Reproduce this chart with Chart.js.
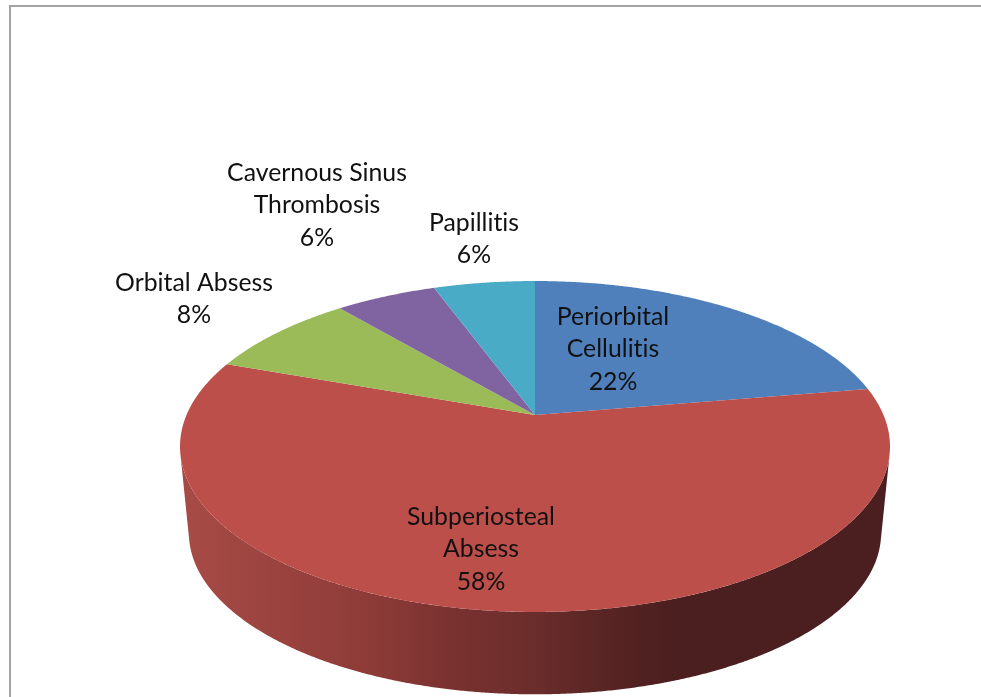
<!DOCTYPE html>
<html><head><meta charset="utf-8">
<style>html,body{margin:0;padding:0;background:#fff;overflow:hidden}canvas{display:block}</style>
<script src="https://cdn.jsdelivr.net/npm/chart.js@4"></script></head>
<body><canvas id="c" width="981" height="697"></canvas>
<script>
const categories = ["Periorbital Cellulitis","Subperiosteal Absess","Orbital Absess","Cavernous Sinus Thrombosis","Papillitis"];
const shareValues = [22.3,58.2,8.4,5.55,5.55];
const percentLabels = ["22%","58%","8%","6%","6%"];
const sliceColors = ["#4F80BC","#BD4F4B","#9BBB59","#8064A2","#49ABC5"];

// layout of the tilted disc and its texts
const LABEL_LINES = [["Periorbital","Cellulitis"],["Subperiosteal","Absess"],["Orbital Absess"],["Cavernous Sinus","Thrombosis"],["Papillitis"]];
const LABEL_ANCHOR = [[613,317],[481,517],[194,283],[317,173],[474,223]];
const P = {cx:535, apexY:415, a:80.5, c:348.5, p:-0.1903};
const WALL = {scale:0.975, cy:533, topCy:446.5};

function project(theta){
  const u=Math.cos(theta), v=Math.sin(theta), w=1+P.p*v;
  return [P.cx+P.c*u/w, (P.a*v+P.apexY)/w];
}
function projectBase(theta){
  const [x,y]=project(theta);
  return [P.cx+(x-P.cx)*WALL.scale, WALL.cy+(y-WALL.topCy)*WALL.scale];
}
function rim(ctx,fn,a0,a1){
  const n=Math.max(2,Math.ceil(Math.abs(a1-a0)/0.005));
  for(let i=0;i<=n;i++){const t=a0+(a1-a0)*i/n;const q=fn(t);ctx.lineTo(q[0],q[1]);}
}
function frontRange(s,e){
  // part of a slice's rim whose outside wall faces the viewer
  let lo=null,hi=null;const d=0.002;
  for(let t=s;t<=e;t+=d){
    const a=project(t),b=project(t+d),o=projectBase(t);
    const cross=(b[0]-a[0])*(o[1]-a[1])-(b[1]-a[1])*(o[0]-a[0]);
    if(cross<0){if(lo===null)lo=t;hi=t;}
  }
  return lo===null?null:[lo,hi];
}
const disc3d={
  id:'disc3d',
  beforeDatasetDraw(chart,args){
    const ctx=chart.ctx, arcs=chart.getDatasetMeta(args.index).data;
    ctx.save();
    const g=ctx.createLinearGradient(180,0,890,0);
    [[0,"#A84B46"],[0.27,"#8D3B37"],[0.38,"#7A3230"],[0.5,"#6A2D2B"],[0.62,"#552322"],[0.7,"#4B1F1F"],[1,"#4B1F1F"]]
      .forEach(s=>g.addColorStop(s[0],s[1]));
    arcs.forEach(arc=>{
      const r=frontRange(arc.startAngle,arc.endAngle);
      if(!r) return;
      ctx.beginPath();
      rim(ctx,project,r[0],r[1]);
      rim(ctx,projectBase,r[1],r[0]);
      ctx.closePath();
      ctx.fillStyle=g;ctx.fill();
    });
    // top face
    arcs.forEach((arc,i)=>{
      ctx.beginPath();
      ctx.moveTo(P.cx,P.apexY);
      rim(ctx,project,arc.startAngle,arc.endAngle);
      ctx.closePath();
      ctx.fillStyle=arc.options.backgroundColor;
      ctx.fill();
    });
    ctx.restore();
    return false;
  },
  afterDraw(chart){
    const ctx=chart.ctx;
    ctx.save();
    // frame
    ctx.fillStyle="#A3A3A3";
    ctx.fillRect(9,5,972,2);
    ctx.fillRect(9,5,2,692);
    // labels
    ctx.fillStyle="#111";
    ctx.font='24.8px Lato, sans-serif';
    ctx.letterSpacing='0.01px';
    ctx.textAlign='center';ctx.textBaseline='middle';
    categories.forEach((c,i)=>{
      const lines=LABEL_LINES[i].concat(percentLabels[i]);
      lines.forEach((t,k)=>ctx.fillText(t,LABEL_ANCHOR[i][0],LABEL_ANCHOR[i][1]+k*32.5));
    });
    ctx.restore();
  }
};
new Chart(document.getElementById('c'),{
  type:'pie',
  data:{labels:categories,datasets:[{data:shareValues,backgroundColor:sliceColors,borderWidth:0}]},
  options:{responsive:false,animation:false,devicePixelRatio:1,
    plugins:{legend:{display:false},tooltip:{enabled:false}}},
  plugins:[disc3d]
});
</script></body></html>
